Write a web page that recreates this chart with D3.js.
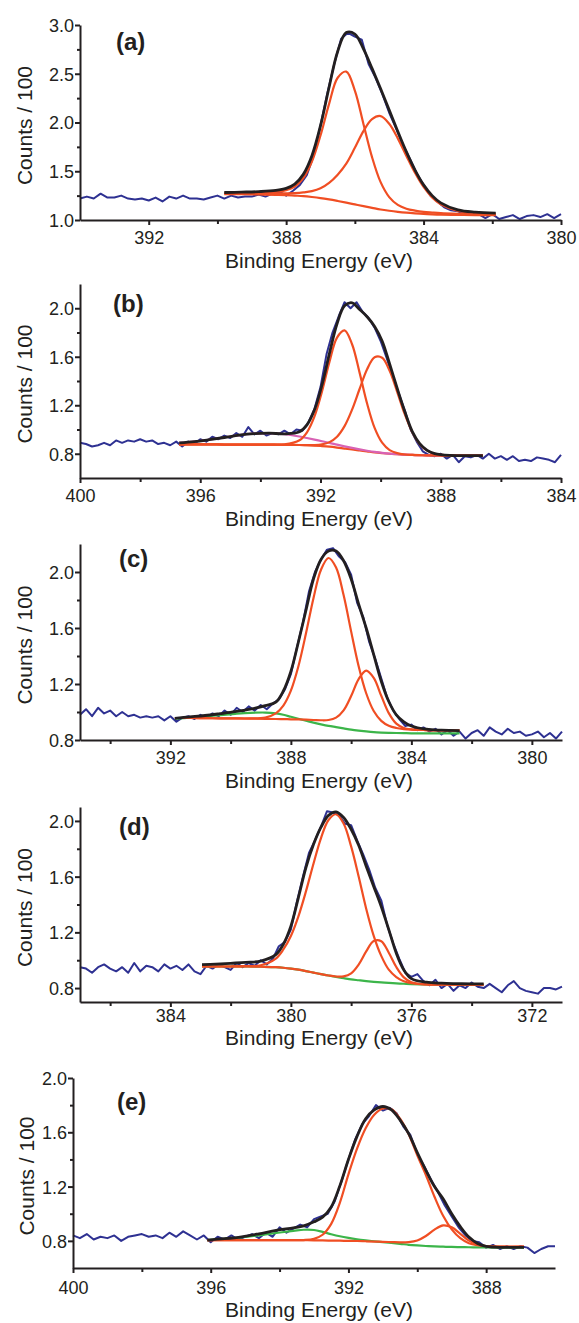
<!DOCTYPE html>
<html>
<head>
<meta charset="utf-8">
<script src="https://cdnjs.cloudflare.com/ajax/libs/d3/7.8.5/d3.min.js"></script>
<style>
  body { margin: 0; background: #fff; }
  text { font-family: "Liberation Sans", Arial, sans-serif; fill: #231f20; }
</style>
</head>
<body>
<div id="chart"></div>
<script>
// ---------- panel (a) ----------
// raw scan, one point every 0.2 eV from 394 down to 380
let aScanE = d3.range(394, 379.99, -0.2);
let aScan = [1.22,1.24,1.22,1.27,1.23,1.23,1.25,1.22,1.21,1.22,
  1.20,1.23,1.19,1.24,1.22,1.25,1.22,1.22,1.21,1.23,
  1.25,1.22,1.25,1.23,1.24,1.24,1.26,1.24,1.27,1.29,
  1.25,1.30,1.36,1.46,1.66,1.97,2.30,2.60,2.86,2.92,
  2.88,2.85,2.60,2.46,2.29,2.10,1.94,1.77,1.63,1.48,
  1.36,1.25,1.19,1.13,1.10,1.09,1.06,1.08,1.06,1.02,
  1.06,1.01,1.03,1.05,1.01,1.04,1.05,1.03,1.06,1.02,
  1.06];
let aFitE = [389.8,389.3,388.8,388.3,388.0,387.75,387.5,387.25,387.0,386.75,386.5,386.25,386.0,
  385.75,385.5,385.25,385.0,384.75,384.5,384.25,384.0,383.75,383.5,383.0,382.5,381.9];
let aFit = [1.282,1.286,1.291,1.303,1.324,1.368,1.468,1.659,1.967,2.361,2.729,2.922,2.907,
  2.755,2.555,2.346,2.127,1.908,1.698,1.512,1.360,1.250,1.176,1.104,1.080,1.070];
let aPeak1 = [1.275,1.277,1.280,1.288,1.305,1.342,1.430,1.599,1.867,2.191,2.459,2.522,2.327,
  1.985,1.645,1.388,1.235,1.155,1.116,1.096,1.083,1.076,1.070,1.063,1.058,1.056];
let aPeak2 = [1.272,1.273,1.273,1.273,1.274,1.276,1.283,1.296,1.325,1.381,1.465,1.578,1.740,
  1.912,2.035,2.066,1.987,1.837,1.657,1.484,1.339,1.232,1.161,1.093,1.072,1.064];
let aBack = [1.265,1.264,1.262,1.258,1.255,1.250,1.245,1.236,1.225,1.211,1.195,1.178,1.160,
  1.142,1.125,1.108,1.095,1.084,1.075,1.068,1.062,1.058,1.055,1.052,1.050,1.050];

// ---------- panel (b) ----------
let bScanE = d3.range(400, 383.99, -0.2);
let bScan = [.89,.88,.86,.87,.89,.87,.91,.89,.91,.90,
  .92,.90,.91,.88,.89,.87,.90,.86,.90,.88,
  .92,.90,.94,.92,.95,.93,.97,.94,1.02,.96,
  .99,.95,.97,.96,.99,.96,1.00,.99,1.06,1.17,
  1.35,1.62,1.80,1.93,2.05,2.00,2.05,1.97,1.92,1.84,
  1.73,1.59,1.44,1.30,1.16,1.00,.90,.82,.79,.78,
  .80,.76,.79,.73,.78,.77,.79,.76,.80,.76,
  .78,.75,.78,.74,.75,.74,.77,.76,.75,.73,
  .79];
let bFitE = [396.7,396.2,395.7,395.2,394.7,394.2,393.7,393.2,392.7,392.45,392.2,391.95,391.7,
  391.45,391.2,390.95,390.7,390.45,390.2,389.95,389.7,389.45,389.2,388.95,388.7,388.45,388.2,
  387.7,387.2,386.6];
let bFit = [.890,.900,.916,.934,.954,.966,.970,.964,.981,1.038,1.162,1.368,1.630,
  1.872,2.020,2.045,1.990,1.930,1.850,1.730,1.540,1.340,1.150,.985,.884,.828,.801,
  .786,.785,.785];
let bPeak1 = [.878,.877,.877,.876,.876,.875,.875,.877,.911,.977,1.108,1.314,1.560,
  1.758,1.817,1.703,1.469,1.214,1.013,.891,.830,.805,.794,.790,.788,.787,.786,
  .785,.785,.785];
let bPeak2 = [.878,.877,.877,.876,.876,.875,.875,.874,.872,.871,.871,.877,.896,
  .941,1.028,1.164,1.334,1.497,1.596,1.592,1.484,1.311,1.128,.980,.881,.826,.800,
  .786,.785,.785];
let bBack = [.878,.877,.877,.876,.876,.875,.875,.874,.872,.870,.867,.863,.858,
  .851,.843,.835,.827,.819,.811,.805,.800,.796,.792,.790,.788,.787,.786,
  .785,.785,.785];
let bSat = [.890,.900,.916,.934,.954,.966,.970,.961,.942,.930,.917,.903,.890,
  .875,.861,.848,.836,.825,.815,.807,.801,.797,.793,.790,.788,.787,.786,
  .785,.785,.785];

// ---------- panel (c) ----------
let cScanE = d3.range(395, 378.99, -0.2);
let cScan = [.98,1.02,.97,1.03,.99,1.01,.97,1.00,.97,.98,
  .96,.97,.96,.97,.94,.97,.93,.96,.97,.95,
  .98,.96,.99,.97,1.01,.98,1.03,1.00,1.04,1.01,
  1.05,1.02,1.06,1.09,1.16,1.27,1.46,1.64,1.86,2.00,
  2.09,2.16,2.17,2.11,2.07,1.98,1.78,1.68,1.50,1.38,
  1.24,1.10,1.01,.95,.90,.91,.87,.89,.86,.88,
  .84,.87,.83,.86,.81,.85,.87,.83,.89,.86,
  .84,.88,.85,.86,.83,.84,.86,.82,.85,.81,
  .86];
let cFitE = [391.85,391.35,390.85,390.35,389.85,389.35,388.85,388.5,388.25,388.0,387.75,387.5,
  387.25,387.0,386.75,386.5,386.25,386.0,385.75,385.5,385.25,385.0,384.75,384.5,384.25,384.0,
  383.5,383.0,382.4];
let cFit = [.955,.965,.975,.988,1.002,1.020,1.045,1.070,1.150,1.290,1.500,1.725,
  1.950,2.090,2.150,2.150,2.080,1.950,1.770,1.600,1.410,1.220,1.075,.980,.930,.900,
  .877,.870,.867];
let cPeak1 = [.957,.957,.956,.955,.954,.954,.960,.990,1.046,1.153,1.327,1.560,
  1.813,2.016,2.100,2.032,1.835,1.576,1.327,1.134,1.007,.937,.902,.886,.878,.874,
  .871,.869,.868];
let cPeak2 = [.957,.957,.956,.955,.954,.953,.951,.950,.949,.948,.947,.945,
  .943,.941,.943,.960,1.012,1.114,1.235,1.296,1.244,1.116,.992,.917,.886,.876,
  .871,.869,.868];
let cBack = [.952,.960,.968,.978,.987,.994,.996,.990,.980,.966,.952,.938,
  .924,.912,.901,.892,.883,.874,.867,.861,.856,.853,.851,.850,.849,.848,
  .848,.848,.848];

// ---------- panel (d) ----------
let dScanE = d3.range(387, 370.99, -0.2);
let dScan = [.95,.94,.91,.95,.97,.94,.92,.95,.91,.98,
  .92,.96,.95,.92,.97,.94,.96,.93,.97,.92,
  .90,.96,.94,.97,.95,.93,.98,.95,.98,.96,
  1.00,.97,1.01,1.10,1.13,1.22,1.42,1.60,1.77,1.86,
  1.96,2.07,2.06,2.04,1.98,1.97,1.86,1.76,1.65,1.52,
  1.43,1.25,1.12,1.01,.91,.88,.90,.85,.82,.86,
  .80,.83,.78,.82,.80,.84,.81,.80,.83,.80,
  .77,.82,.85,.80,.78,.77,.76,.80,.80,.79,
  .81];
let dFitE = [382.95,382.5,382.0,381.5,381.0,380.5,380.25,380.0,379.75,379.5,379.25,379.0,
  378.75,378.5,378.25,378.0,377.75,377.5,377.25,377.0,376.75,376.5,376.25,376.0,375.5,375.0,
  374.5,374.0,373.6];
let dFit = [.968,.972,.978,.984,.994,1.040,1.115,1.245,1.450,1.665,1.830,1.955,
  2.040,2.065,2.025,1.940,1.825,1.675,1.530,1.385,1.220,1.050,.930,.868,.842,.835,
  .832,.830,.830];
let dPeak1 = [.955,.955,.955,.957,.964,1.012,1.077,1.174,1.315,1.494,1.693,1.877,
  2.007,2.048,1.981,1.817,1.601,1.370,1.175,1.031,.932,.879,.849,.836,.827,.825,
  .824,.824,.824];
let dPeak2 = [.955,.955,.955,.955,.953,.950,.946,.940,.932,.922,.911,.900,
  .890,.883,.884,.906,.969,1.063,1.138,1.136,1.054,.951,.877,.842,.826,.825,
  .824,.824,.824];
let dBack = [.955,.955,.955,.955,.953,.950,.946,.940,.932,.922,.911,.900,
  .890,.880,.871,.862,.856,.850,.845,.841,.837,.834,.831,.829,.826,.825,
  .824,.824,.824];

// ---------- panel (e) ----------
let eScanE = d3.range(400, 385.99, -0.2);
let eScan = [.84,.82,.85,.81,.83,.82,.84,.80,.83,.84,
  .85,.83,.84,.82,.86,.83,.87,.84,.81,.84,
  .79,.83,.81,.84,.81,.83,.85,.82,.86,.83,
  .90,.86,.89,.92,.90,.96,.98,1.00,1.09,1.24,
  1.40,1.55,1.66,1.72,1.80,1.76,1.78,1.74,1.64,1.58,
  1.44,1.35,1.25,1.16,1.06,.98,.90,.84,.80,.79,
  .75,.77,.74,.76,.74,.76,.75,.71,.74,.76,
  .76];
let eFitE = [396.1,395.6,395.1,394.6,394.1,393.6,393.3,393.0,392.75,392.5,392.25,392.0,391.75,
  391.5,391.25,391.0,390.75,390.5,390.25,390.0,389.75,389.5,389.25,389.0,388.75,388.5,388.25,
  388.0,387.5,386.9];
let eFit = [.806,.816,.830,.852,.877,.896,.910,.940,.975,1.050,1.205,1.400,1.570,
  1.700,1.765,1.790,1.765,1.690,1.590,1.450,1.320,1.200,1.110,1.000,.905,.828,.781,
  .760,.752,.752];
let ePeak1 = [.806,.806,.806,.805,.805,.805,.806,.815,.845,.925,1.080,1.290,1.480,
  1.630,1.730,1.775,1.770,1.700,1.585,1.430,1.285,1.125,.985,.885,.820,.783,.768,
  .762,.758,.757];
let ePeak2 = [.805,.805,.805,.805,.805,.805,.805,.804,.803,.802,.801,.800,.799,
  .797,.795,.793,.791,.789,.791,.803,.836,.883,.914,.900,.852,.802,.773,
  .761,.757,.757];
let eBack = [.806,.815,.826,.841,.858,.873,.882,.880,.866,.849,.834,.822,.812,
  .804,.797,.790,.784,.778,.771,.766,.762,.759,.757,.755,.754,.753,.752,
  .751,.750,.750];

// colours
let blue = "#2e3192";
let black = "#231f20";
let orange = "#f04e23";
let green = "#3cb54a";
let pink = "#d862b4";

// panel layout (pixels) and axis ticks
let panels = [
  {tag: "(a)", left: 80, right: 561, top: 25, bottom: 220,
   xDomain: [394, 380], yDomain: [1.0, 3.0],
   xTicks: [392, 388, 384, 380], xMinor: [390, 386, 382],
   yTicks: [1.0, 1.5, 2.0, 2.5, 3.0], yMinor: [1.25, 1.75, 2.25, 2.75],
   tickBase: 244, titleBase: 268, yTitleX: 32, tagX: 116, tagY: 50,
   scanE: aScanE, scan: aScan, fitE: aFitE, fit: aFit,
   parts: [[aBack, orange], [aPeak1, orange], [aPeak2, orange]]},
  {tag: "(b)", left: 80, right: 561, top: 284, bottom: 478,
   xDomain: [400, 384], yDomain: [0.6, 2.2],
   xTicks: [400, 396, 392, 388, 384], xMinor: [398, 394, 390, 386],
   yTicks: [0.8, 1.2, 1.6, 2.0], yMinor: [1.0, 1.4, 1.8],
   tickBase: 502, titleBase: 526, yTitleX: 32, tagX: 113, tagY: 312,
   scanE: bScanE, scan: bScan, fitE: bFitE, fit: bFit,
   parts: [[bBack, orange], [bSat, pink], [bPeak1, orange], [bPeak2, orange]]},
  {tag: "(c)", left: 80, right: 562, top: 544, bottom: 740,
   xDomain: [395, 379], yDomain: [0.8, 2.2],
   xTicks: [392, 388, 384, 380], xMinor: [394, 390, 386, 382],
   yTicks: [0.8, 1.2, 1.6, 2.0], yMinor: [1.0, 1.4, 1.8],
   tickBase: 764, titleBase: 788, yTitleX: 32, tagX: 119, tagY: 567,
   scanE: cScanE, scan: cScan, fitE: cFitE, fit: cFit,
   parts: [[cBack, green], [cPeak1, orange], [cPeak2, orange]]},
  {tag: "(d)", left: 80, right: 562, top: 807, bottom: 1002,
   xDomain: [387, 371], yDomain: [0.7, 2.1],
   xTicks: [384, 380, 376, 372], xMinor: [386, 382, 378, 374],
   yTicks: [0.8, 1.2, 1.6, 2.0], yMinor: [1.0, 1.4, 1.8],
   tickBase: 1022, titleBase: 1045, yTitleX: 32, tagX: 119, tagY: 835,
   scanE: dScanE, scan: dScan, fitE: dFitE, fit: dFit,
   parts: [[dBack, green], [dPeak1, orange], [dPeak2, orange]]},
  {tag: "(e)", left: 73, right: 555, top: 1078, bottom: 1268,
   xDomain: [400, 386], yDomain: [0.6, 2.0],
   xTicks: [400, 396, 392, 388], xMinor: [398, 394, 390],
   yTicks: [0.8, 1.2, 1.6, 2.0], yMinor: [1.0, 1.4, 1.8],
   tickBase: 1294, titleBase: 1317, yTitleX: 34, tagX: 117, tagY: 1110,
   scanE: eScanE, scan: eScan, fitE: eFitE, fit: eFit,
   parts: [[eBack, green], [ePeak1, orange], [ePeak2, orange]]}
];

let svg = d3.select("#chart")
  .append("svg")
  .attr("width", 579)
  .attr("height", 1323);

function drawPanel(p) {
  let x = d3.scaleLinear().domain(p.xDomain).range([p.left, p.right]);
  let y = d3.scaleLinear().domain(p.yDomain).range([p.bottom, p.top]);
  let g = svg.append("g");

  // raw counts
  let scanLine = d3.line()
    .x((d, i) => x(p.scanE[i]))
    .y(d => y(d));
  g.append("path")
    .datum(p.scan)
    .attr("d", scanLine)
    .attr("fill", "none")
    .attr("stroke", blue)
    .attr("stroke-width", 2)
    .attr("stroke-linejoin", "round");

  // fitted components, then the envelope on top
  let fitLine = d3.line()
    .x((d, i) => x(p.fitE[i]))
    .y(d => y(d))
    .curve(d3.curveCatmullRom.alpha(0.5));
  p.parts.forEach(part => {
    g.append("path")
      .datum(part[0])
      .attr("d", fitLine)
      .attr("fill", "none")
      .attr("stroke", part[1])
      .attr("stroke-width", 2.2);
  });
  g.append("path")
    .datum(p.fit)
    .attr("d", fitLine)
    .attr("fill", "none")
    .attr("stroke", black)
    .attr("stroke-width", 2.8);

  // x axis
  let xAxis = g.append("g")
    .attr("transform", `translate(0, ${p.bottom})`)
    .call(d3.axisBottom(x).tickValues(p.xTicks).tickSize(5).tickSizeOuter(0).tickFormat(d3.format("d")));
  xAxis.selectAll("text")
    .attr("y", p.tickBase - p.bottom)
    .attr("dy", null)
    .style("font-size", "18px");
  g.append("g")
    .attr("transform", `translate(0, ${p.bottom})`)
    .call(d3.axisBottom(x).tickValues(p.xMinor).tickSize(4).tickSizeOuter(0).tickFormat(""))
    .select(".domain").remove();

  // y axis
  let yAxis = g.append("g")
    .attr("transform", `translate(${p.left}, 0)`)
    .call(d3.axisLeft(y).tickValues(p.yTicks).tickSize(5).tickPadding(1).tickSizeOuter(0).tickFormat(d3.format(".1f")));
  yAxis.selectAll("text")
    .attr("dy", "0.36em")
    .style("font-size", "18px");
  g.append("g")
    .attr("transform", `translate(${p.left}, 0)`)
    .call(d3.axisLeft(y).tickValues(p.yMinor).tickSize(3).tickSizeOuter(0).tickFormat(""))
    .select(".domain").remove();

  g.selectAll(".domain, .tick line")
    .attr("stroke", black)
    .attr("stroke-width", 2);
  g.selectAll(".tick text").attr("fill", black).attr("font-family", null);

  // axis titles and panel tag
  g.append("text")
    .attr("x", 319)
    .attr("y", p.titleBase)
    .attr("text-anchor", "middle")
    .style("font-size", "21px")
    .text("Binding Energy (eV)");
  g.append("text")
    .attr("transform", `translate(${p.yTitleX}, ${(p.top + p.bottom) / 2 + 3}) rotate(-90)`)
    .attr("text-anchor", "middle")
    .style("font-size", "21px")
    .text("Counts / 100");
  g.append("text")
    .attr("x", p.tagX)
    .attr("y", p.tagY)
    .style("font-size", "24px")
    .style("font-weight", "bold")
    .text(p.tag);
}

panels.forEach(drawPanel);
</script>
</body>
</html>
